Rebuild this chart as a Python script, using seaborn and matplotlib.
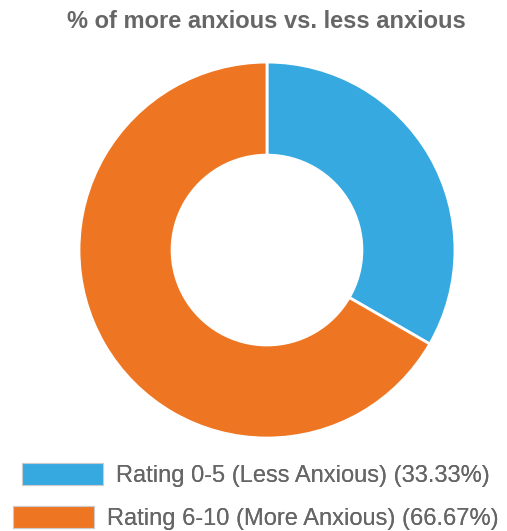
import matplotlib
matplotlib.use("Agg")
import matplotlib.pyplot as plt
import seaborn as sns

# data
labels = ["Rating 0-5 (Less Anxious)", "Rating 6-10 (More Anxious)"]
values = [33.33, 66.67]
colors = ["#36A9E1", "#EE7623"]

sns.set_style("white")
plt.rcParams["font.family"] = ["Liberation Sans", "DejaVu Sans"]

fig = plt.figure(figsize=(5.07, 5.31), dpi=100)
ax = fig.add_axes([0.1558, 0.1751, 0.7416, 0.708])

wedges, _ = ax.pie(values, colors=colors, startangle=90, counterclock=False,
                   radius=1, wedgeprops=dict(width=0.495, edgecolor="white", linewidth=2))
ax.set_xlim(-1, 1)
ax.set_ylim(-1, 1)
ax.set_aspect("equal")
ax.axis("off")

fig.text(266 / 507, 1 - 22 / 531, "% of more anxious vs. less anxious", ha="center", va="center",
         fontsize=17, fontweight="bold", color="#666666")

# one legend per row so that each row is centred by itself
ys = [1 - 475 / 531, 1 - 518 / 531]
for w, lab, v, y in zip(wedges, labels, values, ys):
    leg = fig.legend([w], [f"{lab} ({v:.2f}%)"], loc="center", bbox_to_anchor=(256 / 507, y),
                     frameon=False, fontsize=17, handlelength=3.43, handleheight=1.06,
                     handletextpad=0.55, borderpad=0, labelcolor="#666666")
    for h in leg.legend_handles:
        h.set_edgecolor("#cccccc")
        h.set_linewidth(0.8)
    fig.add_artist(leg)

fig.savefig("out.png", dpi=100)
